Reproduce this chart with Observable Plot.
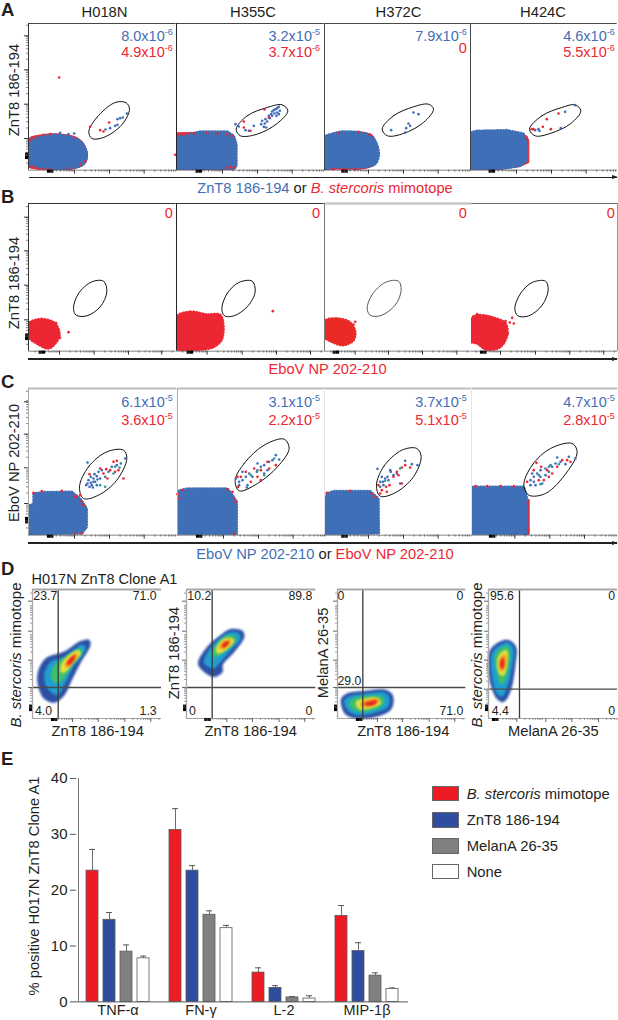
<!DOCTYPE html>
<html><head><meta charset="utf-8">
<script src="https://cdn.jsdelivr.net/npm/d3@7"></script>
<script src="https://cdn.jsdelivr.net/npm/@observablehq/plot@0.6"></script>
<style>
html,body{margin:0;padding:0;background:#fff}
#fig{position:relative;width:618px;height:1020px;overflow:hidden;font-family:"Liberation Sans",Arial,sans-serif;color:#231f20}
#fig svg{position:absolute;overflow:visible;background:transparent}
.t{position:absolute;white-space:nowrap;line-height:0}
.r{position:absolute;white-space:nowrap;line-height:1.1}
sup{font-size:.62em;line-height:0;vertical-align:.62em}
</style></head><body><div id="fig"></div>
<script>
// ---------- colours
const blueInk="#3f6fb6", redInk="#ec2733", tealInk="#3a9a94";
// ---------- panel titles and frequencies
const donors=["H018N","H355C","H372C","H424C"];
const ratesABlue=[["8.0","-6"],["3.2","-5"],["7.9","-6"],["4.6","-6"]];
const ratesARed=[["4.9","-6"],["3.7","-6"],null,["5.5","-6"]];
const ratesCBlue=[["6.1","-5"],["3.1","-5"],["3.7","-5"],["4.7","-5"]];
const ratesCRed=[["3.6","-5"],["2.2","-5"],["5.1","-5"],["2.8","-5"]];
// ---------- flow panel A (channel units)
const a1Blob=[[85,420],[120,408],[165,402],[215,410],[245,425],[260,460],[250,490],[210,503],[160,505],[110,498],[85,488]];
const a1Red=[[85,414],[120,403],[165,399],[225,408],[248,425],[262,460],[255,488],[210,507],[160,510],[110,505],[85,497]];
const a1Gate=[[266,392],[290,350],[345,305],[378,306],[388,325],[365,372],[310,410],[275,413]];
const a1B=[[380,338],[368,350],[352,355],[345,375],[352,372],[330,382],[316,386],[360,352],[222,398],[205,400],[180,396]];
const a1R=[[270,378],[300,388],[310,392],[327,365],[177,230],[525,462],[130,402],[255,482],[90,418],[100,412],[115,406],[150,400],[95,497],[110,501],[130,504],[150,505],[205,503],[240,492]];
const a2Blob=[[528,408],[600,392],[680,392],[700,405],[708,430],[708,495],[695,505],[528,508]];
const a2Red=[[528,396],[580,395],[690,398],[708,490],[704,505],[670,508],[528,508]];
const a2Gate=[[707,385],[740,345],[800,320],[845,312],[862,330],[830,368],[770,400],[720,405]];
const a2B=[[705,370],[715,377],[735,388],[745,390],[760,375],[782,370],[790,378],[797,380],[785,360],[795,355],[805,345],[812,340],[815,332],[820,328],[825,325],[830,322],[835,318],[838,330],[830,335],[822,338],[815,345],[808,352],[800,362],[793,368],[835,340],[828,345]];
const a2R=[[792,326],[730,362],[730,380],[750,390],[805,350],[535,400],[550,402],[565,398],[580,398],[620,395],[650,398],[680,400],[695,405],[690,497],[680,501],[700,500]];
const a3Blob=[[73,410],[100,398],[130,392],[200,400],[225,420],[236,460],[225,490],[180,500],[100,500],[73,505]];
const a3Red=[[73,408],[120,398],[175,393],[215,402],[226,420],[226,488],[170,507],[100,505],[73,506]];
const a3Gate=[[246,385],[280,345],[340,318],[385,310],[400,325],[370,365],[310,398],[262,405]];
const a3B=[[340,335],[355,340],[325,368],[330,375],[318,382],[273,388],[315,395]];
const a3R=[[175,393],[115,397],[210,402],[100,505],[130,505],[165,505]];
const a4Blob=[[511,395],[530,390],[620,388],[670,398],[680,430],[680,480],[660,495],[600,505],[511,508]];
const a4Red=[[511,398],[620,392],[680,405],[686,420],[686,485],[660,497],[600,506],[511,508]];
const a4Gate=[[688,385],[725,345],[785,320],[825,312],[842,330],[812,368],[750,398],[705,405]];
const a4B=[[795,333],[825,313],[782,382],[705,388],[718,390],[715,385]];
const a4R=[[775,338],[740,355],[728,378],[695,385],[752,385],[700,385]];
// ---------- flow panel B
const b1Blob=[[85,385],[125,372],[165,385],[178,420],[165,445],[145,460],[110,445],[85,425]];
const b1Gate=[[220,340],[235,295],[275,260],[310,258],[320,290],[300,335],[260,362],[228,360]];
const b1R=[[205,411],[168,384],[180,428]];
const b2Blob=[[528,365],[570,350],[620,358],[660,360],[665,430],[640,455],[590,465],[535,465],[528,450]];
const b2Gate=[[664,340],[680,295],[715,262],[755,258],[764,290],[740,335],[700,362],[672,362]];
const b2R=[[817,348]];
const b3Blob=[[73,378],[110,370],[150,382],[165,410],[160,435],[130,450],[95,440],[73,425]];
const b3Gate=[[201,340],[215,300],[255,262],[295,258],[303,285],[285,330],[240,362],[210,360]];
const b3R=[[165,380],[160,388]];
const b4Blob=[[513,370],[530,360],[570,365],[615,385],[620,420],[600,455],[560,465],[530,445],[513,440]];
const b4Gate=[[643,340],[660,295],[695,262],[735,258],[743,285],[725,330],[685,362],[652,362]];
const b4R=[[635,368],[640,385],[628,382],[615,378],[530,357],[622,415]];
// ---------- flow panel C
const c1Blob=[[85,405],[100,403],[100,370],[130,366],[215,365],[240,385],[260,415],[260,470],[245,490],[85,495]];
const c1Gate=[[238,350],[265,290],[320,245],[370,240],[380,265],[350,330],[295,375],[250,385]];
const c1B=[[262,277],[258,345],[265,330],[272,320],[280,325],[285,335],[275,345],[290,318],[295,305],[300,325],[305,300],[268,350],[278,352],[290,345],[315,320],[325,305],[335,290],[350,285],[362,280],[375,265],[280,335],[262,340],[272,338],[283,312],[292,328]];
const c1R=[[268,312],[300,295],[310,310],[322,325],[340,275],[350,272],[355,300],[370,325],[318,297],[330,300],[345,305],[240,375],[230,380],[245,395],[250,405],[100,368],[125,363],[185,362],[225,378],[245,490],[225,490]];
const c1T=[[345,290],[358,292],[300,345],[340,310],[315,350]];
const c2Blob=[[530,362],[560,355],[680,355],[695,375],[708,395],[708,492],[530,492]];
const c2Gate=[[703,330],[730,280],[790,225],[850,207],[865,235],[830,290],[770,340],[715,362]];
const c2B=[[705,325],[715,335],[725,330],[735,320],[745,310],[740,345],[755,320],[770,280],[780,290],[790,285],[805,275],[815,270],[825,255],[835,268],[800,300],[768,305],[790,310],[715,345],[738,352],[725,305]];
const c2R=[[710,320],[720,320],[735,305],[750,335],[770,320],[780,300],[760,295],[805,295],[825,285],[800,275],[712,350],[780,330],[530,372],[545,360],[535,385],[680,358],[695,365],[700,385],[705,395],[700,490]];
const c2T=[[790,315],[750,315],[770,300],[820,265]];
const c3Blob=[[73,400],[80,370],[100,363],[210,363],[235,385],[236,490],[73,493]];
const c3Gate=[[229,345],[250,290],[305,240],[350,235],[363,260],[340,320],[285,368],[240,378]];
const c3B=[[232,296],[245,320],[255,325],[265,330],[240,350],[250,345],[262,320],[300,340],[315,272],[335,282],[352,285],[280,315],[290,310],[270,300],[248,335],[240,335],[272,305]];
const c3R=[[235,345],[245,360],[260,365],[268,345],[258,350],[290,305],[305,292],[315,285],[330,292],[305,340],[280,320],[295,315],[240,370],[215,370],[150,362],[225,380],[80,368]];
const c3T=[[300,295],[255,332]];
const c4Blob=[[513,350],[670,350],[680,385],[680,493],[513,493]];
const c4Gate=[[670,345],[695,285],[750,235],[815,220],[830,245],[800,305],[735,370],[685,375]];
const c4B=[[690,330],[700,320],[710,310],[720,300],[735,295],[745,305],[755,290],[770,262],[780,275],[795,282],[825,265],[690,345],[705,345],[720,320],[735,315],[725,340],[750,285],[765,280],[700,335],[695,310],[805,260]];
const c4R=[[708,278],[722,290],[740,300],[755,310],[770,290],[785,270],[800,270],[810,275],[700,300],[715,330],[745,320],[680,335],[730,330],[525,348],[560,348],[600,348],[640,348],[682,400],[683,440],[683,480]];
const c4T=[[715,315],[745,290],[775,282],[720,342]];
const c4Strip=[[670,388],[686,388],[686,493],[670,493]];
// ---------- density panel D (outer to inner level)
const densityColors=["#2c4fa3","#1f9fd0","#3fbf6a","#e6e040","#f59a1f","#e5231f"];
const d1Levels=[
 [[265,255],[240,258],[190,290],[135,310],[112,350],[112,390],[130,430],[160,442],[190,420],[210,380],[240,320],[268,270]],
 [[245,268],[190,305],[150,320],[130,360],[140,400],[170,420],[190,390],[215,340],[255,280]],
 [[240,280],[195,305],[160,330],[150,365],[165,385],[185,375],[210,335],[245,290]],
 [[235,285],[200,303],[180,330],[180,352],[195,350],[215,325],[240,295]],
 [[225,295],[205,310],[192,330],[200,338],[220,315],[232,300]],
 [[222,300],[205,312],[198,328],[208,328],[222,310]]];
const d2Levels=[
 [[725,228],[690,222],[660,240],[620,275],[592,325],[605,345],[640,365],[665,350],[665,330],[700,290],[730,245]],
 [[715,235],[685,232],[650,255],[615,300],[610,325],[640,340],[655,325],[690,285],[720,250]],
 [[705,245],[680,240],[650,265],[630,300],[645,305],[670,290],[705,255]],
 [[695,250],[670,250],[645,280],[650,295],[675,285],[700,258]],
 [[690,255],[670,257],[655,278],[668,282],[688,265]],
 [[685,260],[670,262],[663,277],[678,272]]];
const d3Levels=[
 [[122,430],[140,415],[190,408],[250,404],[275,420],[272,460],[240,480],[170,490],[135,478],[122,450]],
 [[130,435],[150,422],[200,415],[250,412],[265,425],[262,455],[225,472],[170,480],[140,465]],
 [[145,440],[165,428],[210,422],[245,425],[250,445],[225,462],[175,470],[150,458]],
 [[165,440],[190,430],[230,428],[240,445],[215,458],[175,462]],
 [[178,445],[200,433],[232,433],[230,445],[200,455],[182,455]],
 [[190,445],[205,440],[228,435],[225,445],[200,452]]];
const d4Levels=[
 [[568,290],[590,265],[625,255],[647,275],[645,330],[630,410],[610,440],[590,430],[570,380],[565,330]],
 [[575,295],[595,272],[625,262],[640,280],[635,340],[620,400],[605,425],[590,415],[575,360]],
 [[585,300],[600,280],[620,272],[630,290],[625,340],[610,385],[600,385],[590,350]],
 [[592,310],[605,290],[620,285],[622,320],[612,360],[600,360],[592,340]],
 [[597,320],[607,300],[617,300],[615,335],[607,350],[598,340]],
 [[600,325],[607,308],[612,315],[610,338],[603,340]]];
const quadrants=[["23.7","71.0","4.0","1.3"],["10.2","89.8","0","0"],["0","0","29.0","71.0"],["95.6","0","4.4","0"]];
// ---------- bar panel E
const cytokines=["TNF-α","FN-γ","L-2","MIP-1β"];
const peptides=["B. stercoris mimotope","ZnT8 186-194","MelanA 26-35","None"];
const peptideColors=["#ed1c24","#2e4d9f","#808080","#ffffff"];
const meanStercoris=[23.5,30.8,5.25,15.4];
const meanZnT8=[14.7,23.5,2.5,9.1];
const meanMelanA=[9.0,15.6,0.8,4.7];
const meanNone=[7.8,13.2,0.6,2.3];
const topStercoris=[27.3,34.6,6.1,17.25];
const topZnT8=[16.0,24.4,2.9,10.6];
const topMelanA=[10.2,16.3,0.95,5.2];
const topNone=[8.2,13.7,1.1,2.5];
const barTicks=[0,10,20,30,40];
// ---------- tick layout
const logOffsets=[.301,.477,.602,.699,.778,.845,.903,.954];

const fig=document.getElementById("fig");
const FONT='"Liberation Sans",Arial,sans-serif';
function text(x,base,html,o={}){
  const s=o.size||14,e=document.createElement("div");e.className="t";e.innerHTML=html;
  e.style.cssText+=`font-size:${s}px;top:${base-.3465*s}px;color:${o.color||"#231f20"};`;
  if(o.anchor==="end") e.style.right=(618-x)+"px";
  else if(o.anchor==="middle"){e.style.left=x+"px";e.style.transform="translateX(-50%)";}
  else e.style.left=x+"px";
  fig.appendChild(e);return e;
}
function vtext(cx,cy,html,size){
  const e=document.createElement("div");e.className="r";e.innerHTML=html;
  e.style.cssText+=`font-size:${size||14}px;left:${cx}px;top:${cy}px;transform:translate(-50%,-50%) rotate(-90deg);`;
  fig.appendChild(e);
}
function arrowLine(x0,x1,y){
  const l=document.createElement("div");
  l.style.cssText=`position:absolute;left:${x0}px;top:${y-.6}px;width:${x1-x0}px;height:1.2px;background:#222`;
  fig.appendChild(l);
  const h=document.createElement("div");
  h.style.cssText=`position:absolute;left:${x1-5}px;top:${y-2.5}px;width:0;height:0;border-left:6px solid #222;border-top:2.5px solid transparent;border-bottom:2.5px solid transparent`;
  fig.appendChild(h);
}
const pts=a=>({x:d=>d[0],y:d=>d[1]});
const closed=(a,o)=>Plot.line(a,{...pts(a),curve:"catmull-rom-closed",...o});
const poly=(a,o)=>Plot.line(a,{...pts(a),curve:"linear-closed",...o});
const dots=(a,fill,r)=>Plot.dot(a,{...pts(a),r:r||1.3,fill,stroke:"none"});
function ticks(majors,step,lo,hi,dir){
  const out=[];
  for(const m of [...majors,majors[majors.length-1]+dir*step,majors[0]-dir*step])
    for(const f of logOffsets){const v=m+dir*f*step;if(v>=Math.min(lo,hi)&&v<=Math.max(lo,hi)&&!majors.includes(v))out.push(v);}
  return out;
}
const cluster=c=>[c-8,c-5,c-2,c+2,c+5,c+8];
function panel(o){
  const [x0,x1]=o.xd,[y0,y1]=o.yd,mL=8,mR=2,mT=3,mB=7,W=(x1-x0)/3,H=(y0-y1)/3;
  const ink=o.tickInk||"#333";
  const m=[...(o.marks||[])];
  // frame
  if(o.topColor) m.push(Plot.ruleY([y1],{stroke:o.topColor,strokeWidth:o.topWidth||1}));
  if(o.leftColor) m.push(Plot.ruleX([x0],{stroke:o.leftColor,strokeWidth:o.leftWidth||1}));
  if(o.rightColor) m.push(Plot.ruleX([x1],{stroke:o.rightColor,strokeWidth:1}));
  m.push(Plot.ruleY([y0],{stroke:ink,strokeWidth:.6}));
  // ticks
  const step=o.step||105, none=()=>"";
  m.push(Plot.axisX({ticks:o.xTicks,tickSize:4,tickFormat:none,label:null,stroke:ink}));
  m.push(Plot.axisX({ticks:ticks(o.xTicks,step,x0,x1,1),tickSize:2,tickFormat:none,label:null,stroke:ink,strokeWidth:.6}));
  m.push(Plot.axisX({ticks:cluster(o.xCluster),tickSize:3,tickFormat:none,label:null,stroke:"#000",strokeWidth:1.2}));
  if(o.yTicks){
    m.push(Plot.axisY({ticks:o.yTicks,tickSize:4,tickFormat:none,label:null,stroke:ink}));
    m.push(Plot.axisY({ticks:ticks(o.yTicks,step,y0,y1,-1),tickSize:2,tickFormat:none,label:null,stroke:ink,strokeWidth:.6}));
    m.push(Plot.axisY({ticks:cluster(o.yCluster),tickSize:3,tickFormat:none,label:null,stroke:"#000",strokeWidth:1.2}));
  }
  const svg=Plot.plot({width:W+mL+mR,height:H+mT+mB,marginLeft:mL,marginRight:mR,marginTop:mT,marginBottom:mB,
    x:{domain:o.xd,axis:null},y:{domain:o.yd,axis:null},style:{background:"transparent",fontFamily:FONT},marks:m});
  svg.style.left=(o.cx+x0/3-mL)+"px";svg.style.top=(o.cy+y1/3-mT)+"px";
  fig.appendChild(svg);
}
function flow(o){
  const marks=[];
  if(o.red) marks.push(closed(o.red,{fill:redInk,stroke:redInk,strokeWidth:1,clip:true}));
  if(o.redPoly) marks.push(poly(o.redPoly,{fill:redInk,stroke:redInk,strokeWidth:1,clip:true}));
  if(o.blob) marks.push((o.square?poly:closed)(o.blob,{fill:o.blobColor||blueInk,stroke:o.blobColor||blueInk,strokeWidth:2.6,strokeDasharray:"0.5 2.5",strokeLinecap:"round",clip:true}));
  if(o.gate) marks.push(closed(o.gate,{stroke:o.gateColor||"#111",strokeWidth:1}));
  if(o.blue) marks.push(dots(o.blue,blueInk));
  if(o.redDots) marks.push(dots(o.redDots,redInk));
  if(o.teal) marks.push(dots(o.teal,tealInk));
  panel({...o,marks});
}
function density(o){
  const marks=[];
  marks.push(closed(o.levels[0],{fill:"#8fa8d8",stroke:"#8fa8d8",strokeWidth:1.5,strokeOpacity:.3,fillOpacity:.5,imageFilter:"blur(0.8px)"}));
  o.levels.forEach((lev,i)=>marks.push(closed(lev,{fill:densityColors[i],stroke:"none",imageFilter:"blur(0.9px)"})));
  marks.push(Plot.ruleX([o.vline],{stroke:"#3a3a3a",strokeWidth:1.3}));
  marks.push(Plot.ruleY([o.hline],{stroke:"#4a4a4a",strokeWidth:1.3}));
  panel({...o,marks,topColor:"#a8a8a8",topWidth:2,leftColor:"#a8a8a8",leftWidth:1.3,step:80,tickInk:"#666"});
}
// ---- Panel letters
[["A",16.9],["B",203],["C",388],["D",575.7],["E",765]].forEach(([l,y])=>{
  const e=text(1,y,l,{size:18.5});e.style.fontWeight="bold";
});
// ---- Row A
const aX=[138,243,347],aY=[413,310,207,105];
const ayd=[508,68];
const ax=l=>aX.map(v=>v+l);
flow({cx:0,cy:0,xd:[85,528],yd:ayd,blob:a1Blob,red:a1Red,gate:a1Gate,blue:a1B,redDots:a1R,xTicks:ax(85),xCluster:150,yTicks:aY,yCluster:465,topColor:"#444",leftColor:"#333"});
flow({cx:0,cy:0,xd:[528,971],yd:ayd,blob:a2Blob,redPoly:a2Red,square:true,gate:a2Gate,blue:a2B,redDots:a2R,xTicks:ax(528),xCluster:595,topColor:"#444",leftColor:"#222"});
flow({cx:300,cy:0,xd:[73,511],yd:ayd,blob:a3Blob,red:a3Red,gate:a3Gate,blue:a3B,redDots:a3R,xTicks:ax(67),xCluster:133,topColor:"#444",leftColor:"#444"});
flow({cx:300,cy:0,xd:[511,951],yd:ayd,blob:a4Blob,redPoly:a4Red,square:true,gate:a4Gate,blue:a4B,redDots:a4R,xTicks:ax(511),xCluster:575,topColor:"#444",leftColor:"#444"});
// ---- Row B
const byd=[468,25],bY=[374,270,167,66];
flow({cx:0,cy:195,xd:[85,528],yd:byd,blob:b1Blob,blobColor:redInk,gate:b1Gate,redDots:b1R,xTicks:[178,282,385,485],xCluster:125,yTicks:bY,yCluster:425,topColor:"#333",leftColor:"#333"});
flow({cx:0,cy:195,xd:[528,971],yd:byd,blob:b2Blob,blobColor:redInk,gate:b2Gate,redDots:b2R,xTicks:[620,725,828,930],xCluster:568,topColor:"#333",leftColor:"#222"});
flow({cx:300,cy:195,xd:[73,513],yd:byd,blob:b3Blob,blobColor:"#ea2a24",gate:b3Gate,gateColor:"#555",redDots:b3R,xTicks:[165,265,367,470],xCluster:107,topColor:"#c8c8c8",topWidth:2.5,leftColor:"#777"});
flow({cx:300,cy:195,xd:[513,952],yd:byd,blob:b4Blob,blobColor:redInk,gate:b4Gate,redDots:b4R,xTicks:[600,705,808,910],xCluster:548,topColor:"#666",rightColor:"#666"});
// ---- Row C
const cyd=[495,55],cY=[400,293,192,95];
const cTop="#bdbdbd";
flow({cx:0,cy:370,xd:[85,530],yd:cyd,blob:c1Blob,square:true,gate:c1Gate,blue:c1B,redDots:c1R,teal:c1T,xTicks:ax(85),xCluster:150,yTicks:cY,yCluster:450,topColor:cTop,topWidth:2,leftColor:"#aaa"});
flow({cx:0,cy:370,xd:[530,973],yd:cyd,blob:c2Blob,square:true,gate:c2Gate,blue:c2B,redDots:c2R,teal:c2T,xTicks:ax(530),xCluster:595,topColor:cTop,topWidth:2,leftColor:"#aaa"});
flow({cx:300,cy:370,xd:[73,513],yd:cyd,blob:c3Blob,square:true,gate:c3Gate,blue:c3B,redDots:c3R,teal:c3T,xTicks:ax(67),xCluster:133,topColor:cTop,topWidth:2,leftColor:"#e4e4e4"});
flow({cx:300,cy:370,xd:[513,952],yd:cyd,redPoly:c4Strip,blob:c4Blob,square:true,gate:c4Gate,blue:c4B,redDots:c4R,teal:c4T,xTicks:ax(505),xCluster:575,topColor:cTop,topWidth:2,leftColor:"#e4e4e4"});
// ---- Row D
const dyd=[490,103];
density({cx:0,cy:555,xd:[95,482],yd:dyd,levels:d1Levels,vline:172,hline:397,xTicks:[215,292,372,450],xCluster:160,yTicks:[397,315,228,138],yCluster:458});
density({cx:0,cy:555,xd:[557,945],yd:dyd,levels:d2Levels,vline:634,hline:397,xTicks:[678,755,835,912],xCluster:620,yTicks:[397,315,228,138],yCluster:458});
density({cx:300,cy:555,xd:[110,495],yd:dyd,levels:d3Levels,vline:186,hline:397,xTicks:[230,305,385,462],xCluster:175,yTicks:[397,315,228,138],yCluster:458});
density({cx:300,cy:555,xd:[565,952],yd:dyd,levels:d4Levels,vline:658,hline:402,xTicks:[650,737,815,895],xCluster:585,yTicks:[402,315,228,138],yCluster:458});
// ---- Row titles, rates, axis titles
const titleX=[104.5,253,398.5,543];
donors.forEach((d,i)=>text(titleX[i],17.5,d,{size:14.8,anchor:"middle"}));
const rateEnd=[172.7,320,466.7,614.7];
const rate=r=>`${r[0]}x10<sup>${r[1]}</sup>`;
rateEnd.forEach((x,i)=>{
  text(x,36.7,rate(ratesABlue[i]),{size:14.5,anchor:"end",color:blueInk});
  text(x,53.3,ratesARed[i]?rate(ratesARed[i]):"0",{size:14.5,anchor:"end",color:redInk});
  text(x,218.5,"0",{size:14.5,anchor:"end",color:redInk});
  text(x,402.7,rate(ratesCBlue[i]),{size:14.5,anchor:"end",color:blueInk});
  text(x,420.7,rate(ratesCRed[i]),{size:14.5,anchor:"end",color:redInk});
});
vtext(14,90,"ZnT8 186-194",14.7);
vtext(14,283,"ZnT8 186-194",14.7);
vtext(14,463,"EboV NP 202-210",14.7);
arrowLine(29,617,177.7);arrowLine(28,617,359);arrowLine(28,617,543);
text(325,193,`<span style="color:${blueInk}">ZnT8 186-194</span> or <span style="color:${redInk}"><i>B. stercoris</i> mimotope</span>`,{size:14.7,anchor:"middle"});
text(327.5,374,"EboV NP 202-210",{size:14.7,anchor:"middle",color:redInk});
text(325,559,`<span style="color:${blueInk}">EboV NP 202-210</span> or <span style="color:${redInk}">EboV NP 202-210</span>`,{size:14.7,anchor:"middle"});
// ---- D labels
text(31.5,584,"H017N ZnT8 Clone A1",{size:14.5});
const qx=[[33.3,156.7],[187.3,312.3],[337.5,463.3],[490,615]];
const qBottom=[[715,715],[715,715],[685.7,715],[715,715]];
quadrants.forEach((q,i)=>{
  text(qx[i][0],600.7,q[0],{size:12.3});
  text(qx[i][1],600.7,q[1],{size:12.3,anchor:"end"});
  text(qx[i][0]+(i==2?0:1.7),qBottom[i][0],q[2],{size:12.3});
  text(qx[i][1],qBottom[i][1],q[3],{size:12.3,anchor:"end"});
});
const stercoris="<i>B. stercoris</i> mimotope";
vtext(15.7,655,stercoris,15);
vtext(173.7,652.5,"ZnT8 186-194",14.7);
vtext(323,652.5,"MelanA 26-35",14.7);
vtext(477,655,stercoris,15);
[[97.7,"ZnT8 186-194"],[250.7,"ZnT8 186-194"],[403.3,"ZnT8 186-194"],[553.3,"MelanA 26-35"]].forEach(([x,t])=>text(x,736.5,t,{size:14.7,anchor:"middle"}));
// ---- Panel E
const means=[meanStercoris,meanZnT8,meanMelanA,meanNone],tops=[topStercoris,topZnT8,topMelanA,topNone];
const rows=cytokines.flatMap((c,i)=>peptides.map((p,j)=>({cytokine:c,peptide:p,value:means[j][i],top:tops[j][i]})));
const barPlot=Plot.plot({width:420,height:244.4,marginLeft:75,marginRight:11.7,marginTop:3,marginBottom:18,
  style:{background:"transparent",fontFamily:FONT,color:"#231f20"},
  fx:{domain:cytokines,axis:null,padding:0},
  x:{domain:peptides,axis:null,paddingInner:.305,paddingOuter:.505},
  y:{domain:[0,40],axis:null},
  color:{domain:peptides,range:peptideColors},
  marks:[
    Plot.ruleX(rows,{fx:"cytokine",x:"peptide",y1:"value",y2:"top",stroke:"#6a6a6a",strokeWidth:1}),
    Plot.tickY(rows,{fx:"cytokine",x:"peptide",y:"top",stroke:"#555",strokeWidth:1,insetLeft:3,insetRight:3}),
    Plot.barY(rows,{fx:"cytokine",x:"peptide",y:"value",fill:"peptide",stroke:"#5a5a5a",strokeWidth:.8}),
    Plot.ruleY([0],{stroke:"#555",strokeWidth:1}),
    Plot.ruleX([{cytokine:cytokines[0],peptide:peptides[0]}],{fx:"cytokine",x:"peptide",y1:()=>0,y2:()=>40,dx:-14,stroke:"#777",strokeWidth:1}),
    Plot.axisY({ticks:barTicks,tickSize:6,tickPadding:3,fontSize:15,label:null,stroke:"#555",color:"#231f20"}),
    Plot.axisFx({anchor:"bottom",domain:cytokines,tickSize:0,tickPadding:3,fontSize:14.5,label:null})
  ]});
barPlot.style.left="0px";barPlot.style.top="775.3px";
fig.appendChild(barPlot);
vtext(34,886,"% positive H017N ZnT8 Clone A1",14.7);
// ---- Legend
const legY=[785.7,812.3,838,863.7],legLabels=["<i>B. stercoris</i> mimotope","ZnT8 186-194","MelanA 26-35","None"];
peptides.forEach((p,i)=>{
  const s=document.createElement("div");
  s.style.cssText=`position:absolute;box-sizing:border-box;left:432px;top:${legY[i]}px;width:26.7px;height:15.8px;background:${peptideColors[i]};border:1px solid #666`;
  fig.appendChild(s);
  text(466.7,legY[i]+13,legLabels[i],{size:14.8});
});
</script></body></html>
